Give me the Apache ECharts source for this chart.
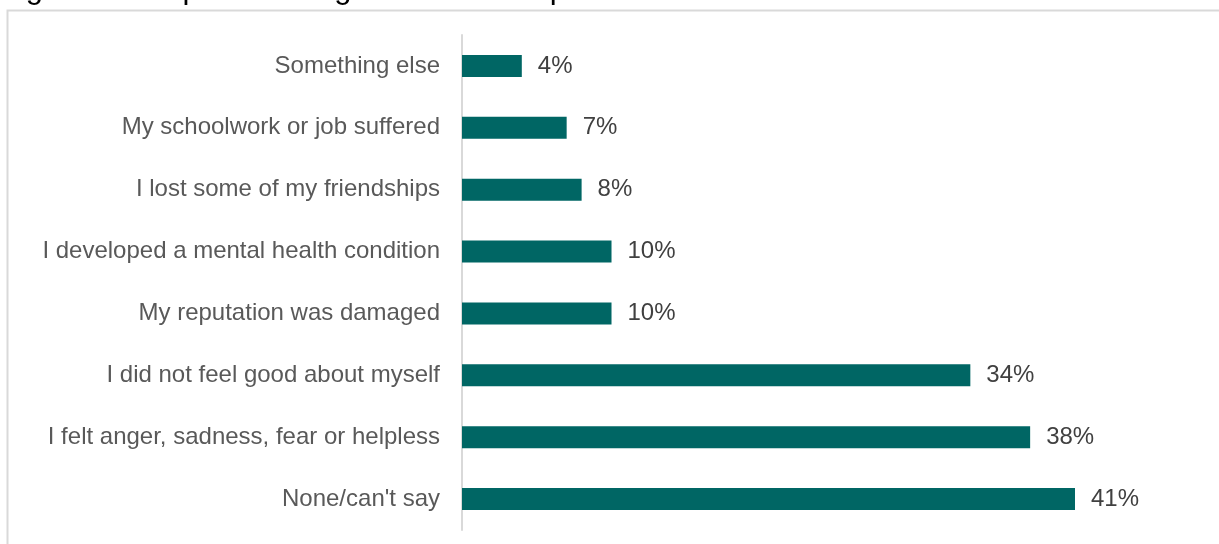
<!DOCTYPE html>
<html>
<head>
<meta charset="utf-8">
<script src="https://cdn.jsdelivr.net/npm/echarts@6/dist/echarts.min.js"></script>
<style>
  html, body { margin: 0; padding: 0; background: #fff; }
  #chart { width: 1219px; height: 544px; }
</style>
</head>
<body>
<div id="chart"></div>
<script>
// Impacts of negative online experiences, share of adults (%)
const categories = [
  'Something else',
  'My schoolwork or job suffered',
  'I lost some of my friendships',
  'I developed a mental health condition',
  'My reputation was damaged',
  'I did not feel good about myself',
  'I felt anger, sadness, fear or helpless',
  "None/can't say"
];
const values = [4, 7, 8, 10, 10, 34, 38, 41];
const titleText = 'Figure 23: Impacts of negative online experiences for adults';

const FONT = '"Liberation Sans", Arial, sans-serif';
const chart = echarts.init(document.getElementById('chart'), null, { renderer: 'canvas' });

chart.setOption({
  animation: false,
  backgroundColor: '#ffffff',
  graphic: [
    {
      type: 'text',
      left: 0,
      top: -26,
      style: {
        text: titleText,
        font: '31px ' + FONT,
        fill: '#000000'
      }
    },
    {
      type: 'rect',
      shape: { x: 7.5, y: 10.5, width: 1300, height: 600 },
      style: { fill: 'none', stroke: '#d9d9d9', lineWidth: 2 },
      silent: true
    }
  ],
  grid: {
    left: 462,
    right: 144,
    top: 35,
    bottom: 14,
    containLabel: false
  },
  xAxis: {
    type: 'value',
    min: 0,
    max: 41,
    show: false
  },
  yAxis: {
    type: 'category',
    data: categories,
    inverse: true,
    axisLine: { show: true, lineStyle: { color: '#d9d9d9', width: 2 } },
    axisTick: { show: false },
    axisLabel: {
      margin: 22,
      color: '#595959',
      fontSize: 24,
      fontFamily: FONT
    }
  },
  series: [
    {
      type: 'bar',
      data: values,
      barWidth: 22,
      itemStyle: { color: '#006664' },
      label: {
        show: true,
        position: 'right',
        distance: 16,
        formatter: p => p.value + '%',
        color: '#404040',
        fontSize: 24,
        fontFamily: FONT
      }
    }
  ]
});
</script>
</body>
</html>
